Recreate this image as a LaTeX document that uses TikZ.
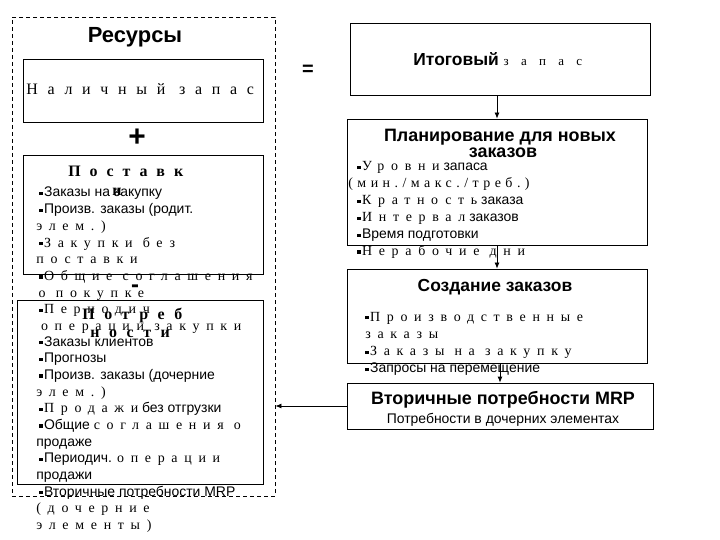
\documentclass[tikz,border=0pt]{standalone}
\usepackage{fontspec}
\setmainfont{Liberation Sans}
\newfontfamily\spfont{Liberation Serif}
\usetikzlibrary{arrows.meta}

% bullet and letter-spaced serif text
\newcommand\bul{\hspace*{3bp}\rule[0.25ex]{3.2bp}{3.2bp}\hspace{1.5bp}}
\newcommand\sps[2][48]{{\spfont\addfontfeature{LetterSpace=#1}#2}}

\begin{document}
\begin{tikzpicture}[
        %Environment config
        x=1bp, y=-1bp,
        font=\fontsize{14}{17}\selectfont,
        line width=0.8bp,
        >={Latex[length=6bp,width=5bp]},
        %Environment styles
        BoxCfg/.style={draw, inner sep=0pt},
        LineCfg/.style={anchor=base west, inner sep=0pt},
        HeadCfg/.style={anchor=base, inner sep=0pt, font=\fontsize{18}{20}\selectfont\bfseries},
        SignCfg/.style={inner sep=0pt, font=\fontsize{#1}{#1}\selectfont\bfseries}
    ]
    \useasboundingbox (0,0) rectangle (720,540);

    % boxes
    \node[BoxCfg, dash pattern=on 4bp off 3bp, minimum width=263bp, minimum height=479bp] (res) at (143.5,256.5) {};
    \node[BoxCfg, minimum width=240bp, minimum height=63bp] (onhand) at (143,90.5) {};
    \node[BoxCfg, minimum width=240bp, minimum height=119bp] (supply) at (143,214.5) {};
    \node[BoxCfg, minimum width=246bp, minimum height=184bp] (demand) at (140,392) {};
    \node[BoxCfg, minimum width=300bp, minimum height=72bp] (final) at (500,59) {};
    \node[BoxCfg, minimum width=300bp, minimum height=126bp] (plan) at (497,182) {};
    \node[BoxCfg, minimum width=300bp, minimum height=94bp] (create) at (497,316) {};
    \node[BoxCfg, minimum width=306bp, minimum height=46bp] (mrp) at (500,406) {};

    % left column
    \node[HeadCfg, font=\fontsize{22}{24}\selectfont\bfseries] (resT) at (135,43) {Ресурсы};
    \node[LineCfg] (onhandT) at (26,95) {\fontsize{16}{18}\selectfont\sps[61]{Наличный запас}};
    \node[SignCfg=30] (plus) at (137,138) {+};
    \node[LineCfg] (supplyT) at (68,177) {\fontsize{16}{18}\selectfont\bfseries\sps[56]{Поставк}};
    \node[SignCfg=16, font=\spfont\fontsize{16}{18}\selectfont\bfseries] (supplyT2) at (117,192) {и};
    \node[SignCfg=24, anchor=base] (minus) at (135,292) {-};
    \node[LineCfg] (demandT) at (82,319) {\fontsize{16}{18}\selectfont\bfseries\sps[60]{Потреб}};
    \node[LineCfg] (demandT2) at (90,337) {\fontsize{16}{18}\selectfont\bfseries\sps[60]{ности}};

    \path
        (36,197) node[LineCfg](sup1){\bul Заказы на закупку}
            ++(0,16.67) node[LineCfg](sup2){\bul Произв. заказы (родит.}
            ++(0,16.67) node[LineCfg](sup3){\sps{элем.)}}
            ++(0,16.67) node[LineCfg](sup4){\bul\sps{Закупки без}}
            ++(0,16.67) node[LineCfg](sup5){\sps{поставки}}
            ++(0,16.67) node[LineCfg](sup6){\bul\sps{Общие соглашения}}
            ++(0,16.67) node[LineCfg](sup7){\sps{\,о покупке}}
            ++(0,16.67) node[LineCfg](sup8){\bul\sps{Периодич}}
            ++(0,16.67) node[LineCfg](sup9){\sps{\,\,операции закупки}};

    \path
        (36,346) node[LineCfg](dem1){\bul Заказы клиентов}
            ++(0,16.67) node[LineCfg](dem2){\bul Прогнозы}
            ++(0,16.67) node[LineCfg](dem3){\bul Произв. заказы (дочерние}
            ++(0,16.67) node[LineCfg](dem4){\sps{элем.)}}
            ++(0,16.67) node[LineCfg](dem5){\bul\sps{Продажи} без отгрузки}
            ++(0,16.67) node[LineCfg](dem6){\bul Общие \sps{соглашения о}}
            ++(0,16.67) node[LineCfg](dem7){продаже}
            ++(0,16.67) node[LineCfg](dem8){\bul Периодич. \sps{операции}}
            ++(0,16.67) node[LineCfg](dem9){продажи}
            ++(0,16.67) node[LineCfg](dem10){\bul Вторичные потребности MRP}
            ++(0,16.67) node[LineCfg](dem11){\sps{(дочерние}}
            ++(0,16.67) node[LineCfg](dem12){\sps{элементы)}};

    % right column
    \node[SignCfg=20] (equal) at (308,70) {=};
    \node[LineCfg] (finalT) at (413,66) {\fontsize{17.5}{19}\selectfont\bfseries Итоговый \mdseries\fontsize{13}{15}\selectfont\sps[95]{запас}};
    \node[HeadCfg] (planT) at (500,142) {Планирование для новых};
    \node[HeadCfg] (planT2) at (503,158) {заказов};
    \node[HeadCfg, font=\fontsize{17.5}{19}\selectfont\bfseries] (createT) at (495,291) {Создание заказов};
    \node[HeadCfg] (mrpT) at (503,404) {Вторичные потребности MRP};
    \node[HeadCfg, font=\fontsize{14}{17}\selectfont] (mrpT2) at (503,423) {Потребности в дочерних элементах};

    \path
        (354,171) node[LineCfg](pl1){\bul\sps{Уровни} запаса}
            ++(-6,16.9) node[LineCfg](pl2){\sps[32]{(мин./макс./треб.)}}
            ++(6,16.9) node[LineCfg](pl3){\bul\sps{Кратность} заказа}
            ++(0,16.9) node[LineCfg](pl4){\bul\sps{Интервал} заказов}
            ++(0,16.9) node[LineCfg](pl5){\bul Время подготовки}
            ++(0,16.9) node[LineCfg](pl6){\bul\sps{Нерабочие дни}};

    \path
        (362,321) node[LineCfg](cr1){\bul\sps{Производственные}}
            ++(3,17.3) node[LineCfg](cr2){\sps{заказы}}
            ++(-3,17.3) node[LineCfg](cr3){\bul\sps{Заказы на закупку}}
            ++(0,17.3) node[LineCfg](cr4){\bul Запросы на перемещение};

    % connectors
    \draw[->] (plan.north |- final.south) -- (plan.north);
    \draw[->] (plan.south) -- (create.north);
    \draw[->] (mrp.north |- create.south) -- (mrp.north);
    \draw[->] (mrp.west) -- (mrp.west -| res.east);
\end{tikzpicture}
\end{document}
